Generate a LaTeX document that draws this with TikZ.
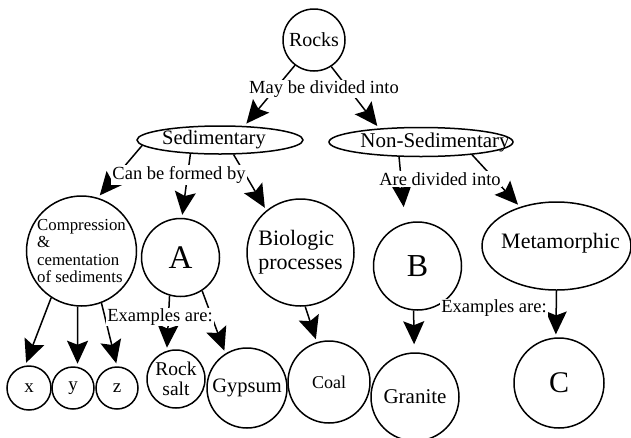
\documentclass[tikz,border=0pt]{standalone}
\usepackage{fontspec}
\setmainfont{Liberation Serif}
\usetikzlibrary{shapes.geometric,arrows.meta}

\begin{document}
\begin{tikzpicture}[x=1pt, y=-1pt, line width=1.5pt]
        \tikzstyle{every node}=[inner sep=0pt]
        \tikzstyle{concept}=[draw, circle]
        \tikzstyle{oval}=[draw, ellipse]
        \tikzstyle{phrase}=[fill=white, inner sep=1pt, font=\fontsize{18.5}{20}\selectfont]
        \tikzstyle{link}=[-{Stealth[length=23pt, width=21pt, inset=4pt]}, shorten >=3pt]
        \useasboundingbox (0,0) rectangle (631,437);
        \node [concept, minimum size=62pt, font=\fontsize{20}{22}\selectfont] (rocks) at (314,40) {Rocks};
        \node [oval, minimum width=166pt, minimum height=28pt, label={[font=\fontsize{20.5}{22}\selectfont, xshift=-6pt]center:Sedimentary}] (sed) at (220,140) {};
        \node [oval, minimum width=184pt, minimum height=29pt, label={[font=\fontsize{21}{22}\selectfont, xshift=14pt]center:Non-Sedimentary}] (nonsed) at (421,142) {};
        \node [concept, minimum size=110pt, align=left, font=\fontsize{16.8}{17.5}\selectfont] (comp) at (81.5,251) {Compression\\\&\\cementation\\of sediments};
        \node [concept, minimum size=78pt, font=\fontsize{33}{34}\selectfont] (A) at (180.5,257.5) {A};
        \node [concept, minimum size=107pt, align=left, font=\fontsize{22}{24}\selectfont] (bio) at (300.5,252.5) {Biologic\\processes};
        \node [concept, minimum size=88pt, font=\fontsize{32}{34}\selectfont] (B) at (417.5,266) {B};
        \node [oval, minimum width=149pt, minimum height=88pt, label={[font=\fontsize{22}{24}\selectfont, xshift=4pt, yshift=3pt]center:Metamorphic}] (meta) at (556.5,246) {};
        \node [concept, minimum size=44pt, font=\fontsize{19}{20}\selectfont] (x) at (29,388) {x};
        \node [concept, minimum size=42pt, font=\fontsize{19}{20}\selectfont] (y) at (73,388) {y};
        \node [concept, minimum size=42pt, font=\fontsize{19}{20}\selectfont] (z) at (117,388) {z};
        \node [concept, minimum size=58pt, align=center, font=\fontsize{19.5}{20}\selectfont] (rocksalt) at (176,379) {Rock\\salt};
        \node [concept, minimum size=80pt, font=\fontsize{20.5}{22}\selectfont] (gypsum) at (247,388) {Gypsum};
        \node [concept, minimum size=82pt, font=\fontsize{18}{20}\selectfont] (coal) at (329,382) {Coal};
        \node [concept, minimum size=88pt, font=\fontsize{21}{22}\selectfont] (granite) at (415,397) {Granite};
        \node [concept, minimum size=90pt, font=\fontsize{30}{32}\selectfont] (C) at (559,383) {C};
        \draw [link] (rocks.233) -- (sed.30);
        \draw [link] (rocks.303) -- (nonsed.162);
        \draw [link] (sed.184) -- (comp.73);
        \draw [link] (sed.205) -- (A.88);
        \draw [link] (sed.313) -- (bio.129);
        \draw [link, shorten >=16pt] (nonsed.214) -- (B.106);
        \draw [link] (nonsed.346) -- (meta.133);
        \draw [link] (comp.237) -- (x.100);
        \draw [link] (comp.266) -- (y.78);
        \draw [link] (comp.291) -- (z.90);
        \draw [link] (A.254) -- (rocksalt.108);
        \draw [link] (A.303) -- (gypsum.122);
        \draw [link] (bio.275) -- (coal.107);
        \draw [link, shorten >=8pt] (B.265) -- (granite.91);
        \draw [link] (meta.270) -- (C.94);
        \node [phrase] (divided) at (324,89) {May be divided into};
        \node [phrase] (formed) at (179,175) {Can be formed by};
        \node [phrase] (split) at (440,179) {Are divided into};
        \node [phrase] (examplesA) at (160,317) {Examples are:};
        \node [phrase] (examplesM) at (494,308) {Examples are:};
    \end{tikzpicture}
\end{document}
